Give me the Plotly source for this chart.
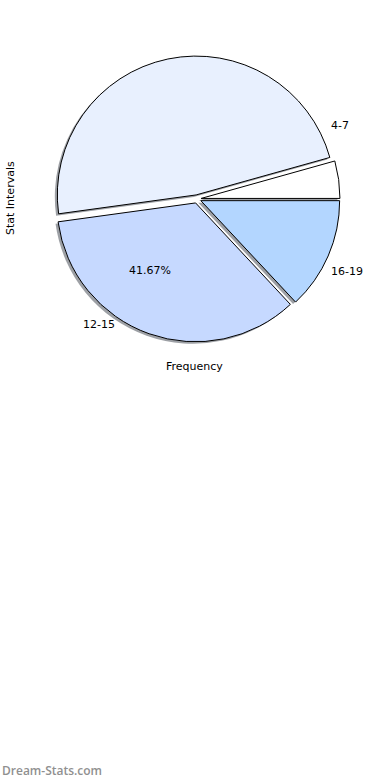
import plotly.graph_objects as go

# Data
categories = ["4-7", "8-11", "12-15", "16-19"]
frequencies = [1, 11, 8, 3]
shown_labels = ["4-7", "", "12-15", "16-19"]
pct_labels = ["", "", "41.67%", ""]

# Styles
slice_colors = ["#ffffff", "#e8f0fe", "#c6d9ff", "#b3d6ff"]
pulls = [0.03, 0.03, 0.03, 0.03]

W, H = 390, 780
cx, cy, half = 197, 199, 143  # pie box in pixels (layout only)

# first slice starts at 3 o'clock and runs counterclockwise
start_rotation = 90 - 360.0 * frequencies[0] / sum(frequencies)


def dom(dx=0.0, dy=0.0):
    return dict(
        x=[(cx - half + dx) / W, (cx + half + dx) / W],
        y=[1 - (cy + half + dy) / H, 1 - (cy - half + dy) / H],
    )


fig = go.Figure()

# shadow
fig.add_trace(go.Pie(
    labels=categories, values=frequencies, sort=False, direction="counterclockwise",
    rotation=start_rotation, pull=pulls, domain=dom(-2.5, 2),
    marker=dict(colors=["rgba(60,65,75,0.5)"] * 4, line=dict(width=0)),
    textinfo="none", hoverinfo="skip", showlegend=False,
))

# main pie
fig.add_trace(go.Pie(
    labels=categories, values=frequencies, sort=False, direction="counterclockwise",
    rotation=start_rotation, pull=pulls, domain=dom(),
    marker=dict(colors=slice_colors, line=dict(color="#000000", width=1)),
    textinfo="none", showlegend=False,
))

label_pos = {"4-7": (340, 126), "12-15": (99, 324), "16-19": (347, 271)}
pct_pos = {"12-15": (150, 270)}
font = dict(family="DejaVu Sans", size=11, color="#000000")

ann = []
for cat, lab, pct in zip(categories, shown_labels, pct_labels):
    if lab:
        px, py = label_pos[cat]
        ann.append(dict(x=px / W, y=1 - py / H, xref="paper", yref="paper", text=lab,
                        showarrow=False, font=font, xanchor="center", yanchor="middle"))
    if pct:
        px, py = pct_pos[cat]
        ann.append(dict(x=px / W, y=1 - py / H, xref="paper", yref="paper", text=pct,
                        showarrow=False, font=font, xanchor="center", yanchor="middle"))

ann.append(dict(x=194 / W, y=1 - 366 / H, xref="paper", yref="paper", text="Frequency",
                showarrow=False, font=font, xanchor="center", yanchor="middle"))
ann.append(dict(x=10 / W, y=1 - 198 / H, xref="paper", yref="paper", text="Stat Intervals",
                showarrow=False, font=font, textangle=-90, xanchor="center", yanchor="middle"))
ann.append(dict(x=0, y=1 - 770 / H, xref="paper", yref="paper", text="Dream-Stats.com",
                showarrow=False, xanchor="left", yanchor="middle",
                font=dict(family="Open Sans", size=12, color="#909090", weight=600)))

fig.update_layout(
    width=W, height=H, margin=dict(l=0, r=0, t=0, b=0),
    paper_bgcolor="#ffffff", plot_bgcolor="#ffffff",
    annotations=ann, showlegend=False,
)

fig.write_html(
    "out.html",
    config={"displayModeBar": False},
    post_script="document.body.style.margin='0';document.body.style.padding='0';",
)
